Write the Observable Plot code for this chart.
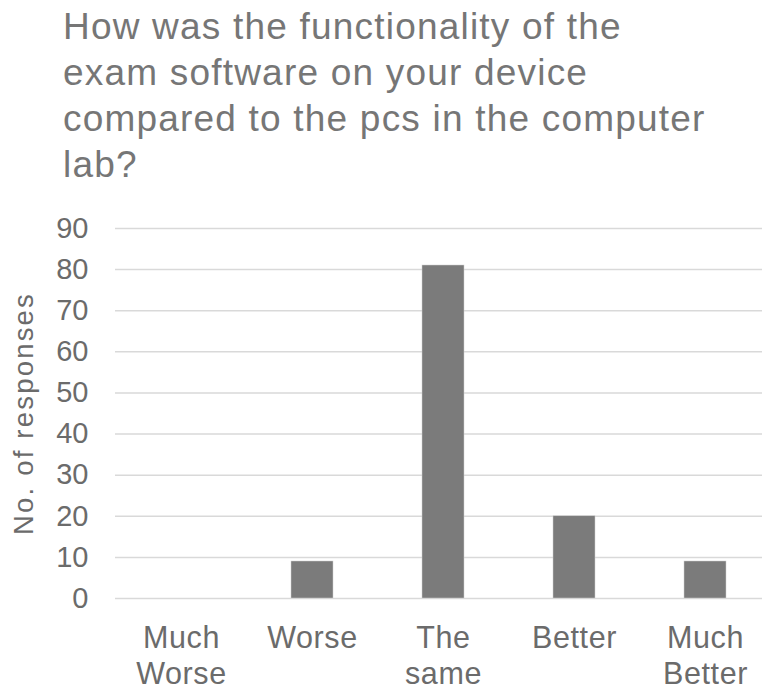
<!DOCTYPE html>
<html>
<head>
<meta charset="utf-8">
<script src="https://cdn.jsdelivr.net/npm/d3@7"></script>
<script src="https://cdn.jsdelivr.net/npm/@observablehq/plot@0.6"></script>
<style>
  html, body { margin: 0; padding: 0; background: #fff; overflow: hidden; }
  #title {
    font-family: "Liberation Sans", Arial, sans-serif;
    font-size: 37px; line-height: 46px; color: #767676; letter-spacing: 1.2px;
    padding: 4px 0 0 63px; height: 196px; box-sizing: content-box; white-space: nowrap;
  }
  #chart svg { display: block; }
  #chart g[aria-label="text"] text { letter-spacing: 2.2px; }
  #chart g[aria-label="x-axis tick label"] text { letter-spacing: 0.6px; }
</style>
</head>
<body>
<div id="title">How was the functionality of the<br>exam software on your device<br>compared to the pcs in the computer<br>lab?</div>
<div id="chart"></div>
<script>
const categories = ["Much Worse", "Worse", "The same", "Better", "Much Better"];
const tickLabels = ["Much\nWorse", "Worse", "The\nsame", "Better", "Much\nBetter"];
const responses = [0, 9, 81, 20, 9];
const yTicks = [0, 10, 20, 30, 40, 50, 60, 70, 80, 90];
const yLabel = "No. of responses";

const data = categories.map((c, i) => ({category: c, value: responses[i]}));
const labelOf = new Map(categories.map((c, i) => [c, tickLabels[i]]));

const chart = Plot.plot({
  width: 762,
  height: 492,
  marginTop: 28,
  marginBottom: 94,
  marginLeft: 115,
  marginRight: -8,
  style: {fontFamily: "Liberation Sans, Arial, sans-serif", background: "#fff", overflow: "hidden"},
  x: {domain: categories, paddingInner: 0.68, paddingOuter: 0.34, label: null},
  y: {domain: [0, 90], label: null},
  marks: [
    Plot.ruleY(yTicks, {stroke: "#d9d9d9", strokeWidth: 1.5}),
    Plot.barY(data, {x: "category", y: "value", fill: "#7b7b7b", stroke: "#d0d0d0", strokeWidth: 0.5}),
    Plot.axisY(yTicks, {tickSize: 0, tickPadding: 27, fontSize: 29, fill: "#6b6b6b", label: null}),
    Plot.axisX({tickSize: 0, tickPadding: 23, fontSize: 30.5, lineHeight: 1.2, fill: "#6b6b6b", tickFormat: d => labelOf.get(d), label: null}),
    Plot.text([yLabel], {frameAnchor: "left", rotate: -90, dx: -91, fontSize: 27.5, fill: "#6b6b6b", textAnchor: "middle", lineAnchor: "middle"})
  ]
});
document.getElementById("chart").appendChild(chart);
</script>
</body>
</html>
